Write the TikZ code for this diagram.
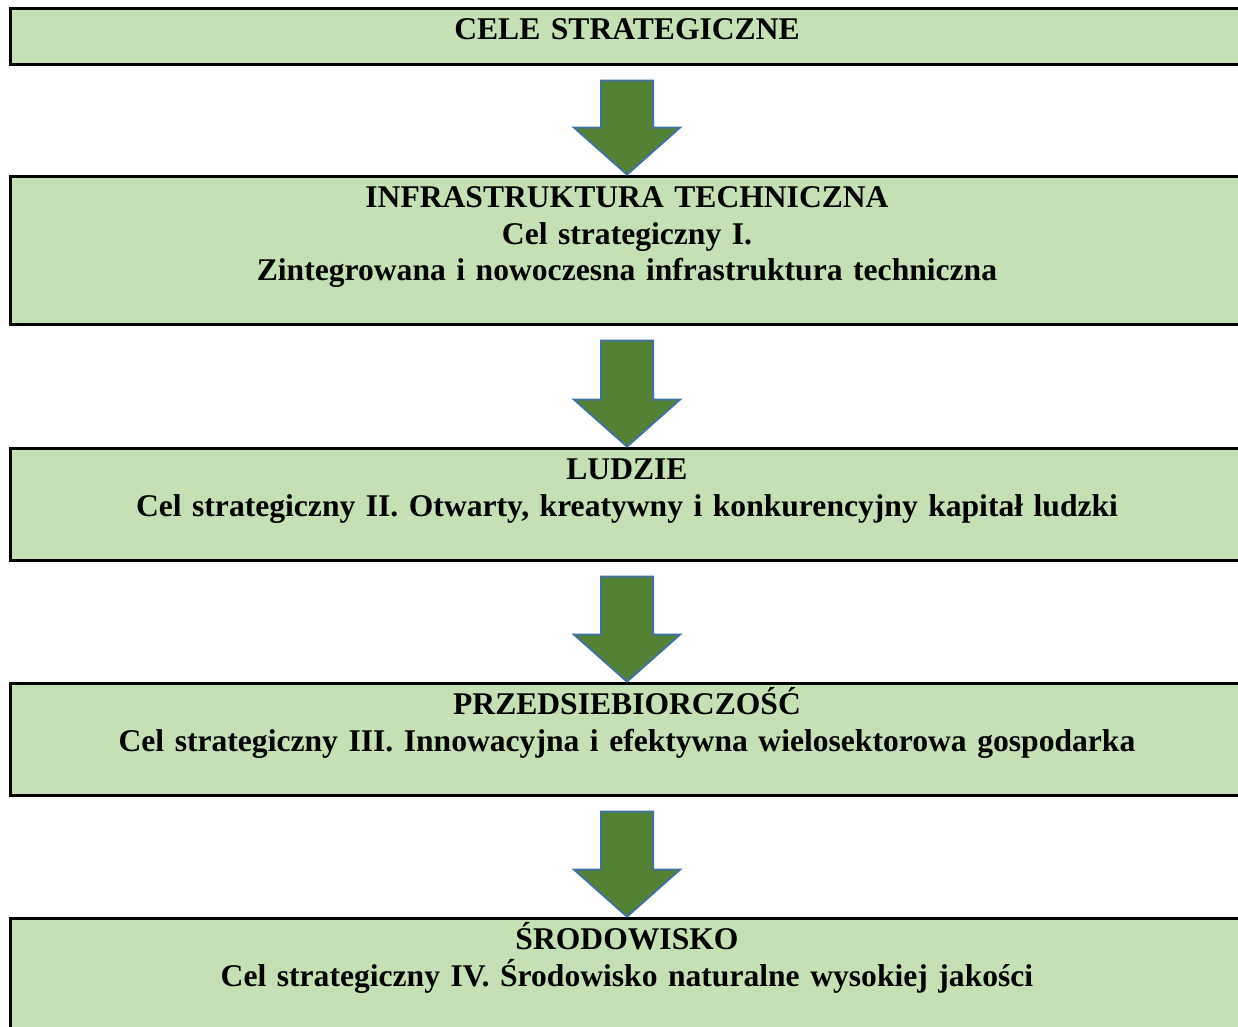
\documentclass[tikz,border=0pt]{standalone}
\usepackage{fontspec}
\setmainfont{Liberation Serif}
\usetikzlibrary{positioning}
\definecolor{boxgreen}{HTML}{C5E0B4}
\definecolor{arrowgreen}{HTML}{548235}
\definecolor{arrowblue}{HTML}{41719C}
\newcommand{\widthbox}{1234pt}
\newcommand{\toptext}{33pt}
\newcommand{\shaftw}{26pt}
\newcommand{\headw}{53pt}
\newcommand{\headl}{47pt}
\newcommand{\shaftgap}{15pt}

\begin{document}
\begin{tikzpicture}[x=1pt, y=1pt,
		goalbox/.style={draw, line width=3pt, fill=boxgreen, rectangle, minimum width = \widthbox},
		goaltext/.style={text width = 1200pt, align = center, inner sep = 0pt, anchor = base,
			font = \fontsize{31.6}{36.5}\selectfont\bfseries},
		blockarrow/.style={draw = arrowblue, fill = arrowgreen, line width = 2pt, line join = miter,
			to path={([xshift=-\shaftw, yshift=-\shaftgap]\tikztostart.south)
				-- ([xshift=\shaftw, yshift=-\shaftgap]\tikztostart.south)
				-- ([xshift=\shaftw, yshift=\headl]\tikztotarget.north)
				-- ([xshift=\headw, yshift=\headl]\tikztotarget.north)
				-- (\tikztotarget.north)
				-- ([xshift=-\headw, yshift=\headl]\tikztotarget.north)
				-- ([xshift=-\shaftw, yshift=\headl]\tikztotarget.north)
				-- cycle}}]
		\useasboundingbox (0,0) rectangle (1238,-1026);
		\node[goalbox, minimum height = 56pt] (0) at (627,-36) {};
		\node[goalbox, minimum height = 148pt] (1) [below = 109pt of 0] {};
		\node[goalbox, minimum height = 112pt] (2) [below = 121pt of 1] {};
		\node[goalbox, minimum height = 112pt] (3) [below = 120pt of 2] {};
		\node[goalbox, minimum height = 112pt] (4) [below = 120pt of 3] {};
		\node[goaltext] (t0) [below = \toptext of 0.north, anchor = base] {CELE STRATEGICZNE};
		\node[goaltext] (t1) [below = \toptext of 1.north, anchor = base] {INFRASTRUKTURA TECHNICZNA\\ Cel strategiczny I.\\ Zintegrowana i nowoczesna infrastruktura techniczna};
		\node[goaltext] (t2) [below = \toptext of 2.north, anchor = base] {LUDZIE\\ Cel strategiczny II. Otwarty, kreatywny i konkurencyjny kapitał ludzki};
		\node[goaltext] (t3) [below = \toptext of 3.north, anchor = base] {PRZEDSIEBIORCZOŚĆ\\ Cel strategiczny III. Innowacyjna i efektywna wielosektorowa gospodarka};
		\node[goaltext] (t4) [below = \toptext of 4.north, anchor = base] {ŚRODOWISKO\\ Cel strategiczny IV. Środowisko naturalne wysokiej jakości};
		\path[blockarrow]
			(0) to (1)
			(1) to (2)
			(2) to (3)
			(3) to (4)
		;
	\end{tikzpicture}
\end{document}
